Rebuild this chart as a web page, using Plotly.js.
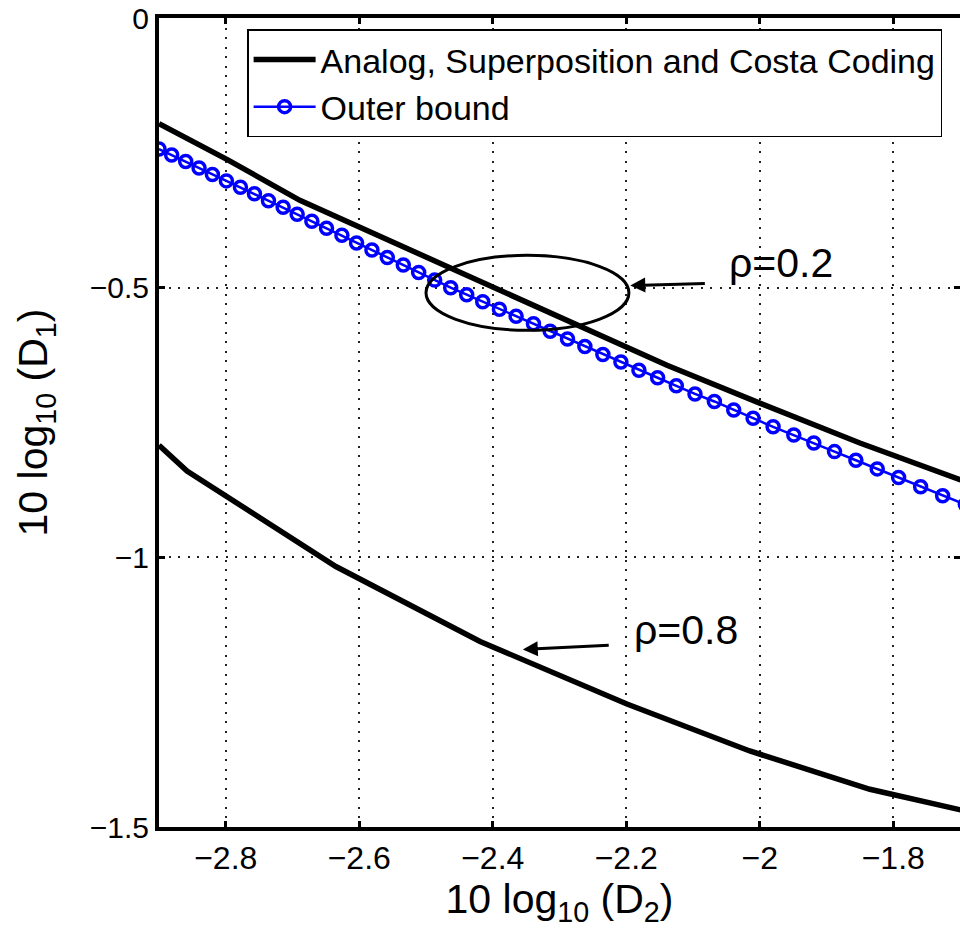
<!DOCTYPE html>
<html>
<head>
<meta charset="utf-8">
<script src="https://cdn.plot.ly/plotly-3.0.1.min.js"></script>
<style>html,body{margin:0;padding:0;background:#fff;}#chart{width:960px;height:937px;}</style>
</head>
<body>
<div id="chart"></div>
<script>
// Analog, Superposition and Costa Coding, rho = 0.2
const rho02X = [-2.900, -2.797, -2.689, -2.329, -2.139, -2.000, -1.850, -1.700, -1.640];
const rho02Y = [-0.196, -0.263, -0.338, -0.540, -0.644, -0.714, -0.788, -0.856, -0.883];

// Analog, Superposition and Costa Coding, rho = 0.8
const rho08X = [-2.900, -2.858, -2.635, -2.419, -2.199, -2.015, -1.835, -1.700, -1.640];
const rho08Y = [-0.792, -0.840, -1.017, -1.156, -1.272, -1.359, -1.430, -1.470, -1.485];

// Outer bound
const outerX = [-2.900, -2.881, -2.860, -2.840, -2.820, -2.799, -2.778, -2.757, -2.736, -2.714,
                -2.693, -2.671, -2.649, -2.626, -2.604, -2.581, -2.558, -2.534, -2.511, -2.487,
                -2.463, -2.439, -2.415, -2.390, -2.365, -2.339, -2.314, -2.288, -2.262, -2.235,
                -2.208, -2.181, -2.153, -2.125, -2.097, -2.068, -2.039, -2.010, -1.980, -1.949,
                -1.919, -1.888, -1.856, -1.824, -1.792, -1.759, -1.726, -1.692];
const outerY = [-0.243, -0.254, -0.266, -0.278, -0.290, -0.302, -0.314, -0.326, -0.339, -0.351,
                -0.364, -0.377, -0.390, -0.403, -0.417, -0.430, -0.444, -0.458, -0.472, -0.486,
                -0.500, -0.513, -0.526, -0.540, -0.553, -0.567, -0.581, -0.595, -0.609, -0.624,
                -0.638, -0.653, -0.667, -0.682, -0.697, -0.711, -0.727, -0.742, -0.758, -0.773,
                -0.788, -0.804, -0.820, -0.836, -0.852, -0.869, -0.886, -0.902];

const xTicks = [-2.8, -2.6, -2.4, -2.2, -2.0, -1.8];
const xTickText = ['\u22122.8', '\u22122.6', '\u22122.4', '\u22122.2', '\u22122', '\u22121.8'];
const yTicks = [0, -0.5, -1, -1.5];
const yTickText = ['0', '\u22120.5', '\u22121', '\u22121.5'];

const legendNames = ['Analog, Superposition and Costa Coding', 'Outer bound'];
const labelTexts = ['\u03c1=0.2', '\u03c1=0.8'];

const FONT = '"Liberation Sans", Arial, Helvetica, sans-serif';

const traces = [
  {x: rho02X, y: rho02Y, mode: 'lines', name: legendNames[0],
   line: {color: '#000', width: 5.5}},
  {x: outerX, y: outerY, mode: 'lines+markers', name: legendNames[1],
   line: {color: '#0000ff', width: 2.5},
   marker: {symbol: 'circle', size: 12, color: 'rgba(0,0,0,0)', line: {width: 3.5, color: '#0000ff'}}},
  {x: rho08X, y: rho08Y, mode: 'lines', showlegend: false,
   line: {color: '#000', width: 5.5}}
];

const axisCommon = {
  showline: true, linecolor: '#000', linewidth: 4, mirror: 'ticks',
  ticks: 'inside', ticklen: 6, tickwidth: 3, tickcolor: '#000',
  showgrid: true, gridcolor: '#222', gridwidth: 1.8, griddash: '2px,7.5px',
  zeroline: false
};

const layout = {
  width: 960, height: 937,
  margin: {l: 159, r: 0, t: 18, b: 110},
  paper_bgcolor: '#fff', plot_bgcolor: '#fff',
  font: {family: FONT, color: '#000'},
  xaxis: Object.assign({}, axisCommon, {
    range: [-2.9, -1.7], tickvals: xTicks, ticktext: xTickText,
    tickfont: {family: FONT, size: 32, color: '#000'},
    title: {text: '10 log<sub>10</sub> (D<sub>2</sub>)', font: {family: FONT, size: 41, color: '#000'}, standoff: 0}
  }),
  yaxis: Object.assign({}, axisCommon, {
    range: [-1.5, 0], tickvals: yTicks, ticktext: yTickText,
    tickfont: {family: FONT, size: 30, color: '#000'},
    title: {text: '10 log<sub>10</sub> (D<sub>1</sub>)', font: {family: FONT, size: 41, color: '#000'}, standoff: 30}
  }),
  showlegend: true,
  legend: {
    x: 0.11, y: 0.986, xanchor: 'left', yanchor: 'top',
    bgcolor: '#fff', bordercolor: '#000', borderwidth: 1.5,
    font: {family: FONT, size: 34, color: '#000'},
    itemwidth: 62, tracegroupgap: 0
  },
  shapes: [
    {type: 'circle', xref: 'x', yref: 'y', x0: -2.500, x1: -2.196, y0: -0.440, y1: -0.579,
     line: {color: '#000', width: 3}, layer: 'above'}
  ],
  annotations: [
    {xref: 'x', yref: 'y', axref: 'x', ayref: 'y', x: -2.194, y: -0.496, ax: -2.080, ay: -0.492,
     text: '', showarrow: true, arrowhead: 2, arrowsize: 1, arrowwidth: 3, arrowcolor: '#000'},
    {xref: 'x', yref: 'y', x: -2.049, y: -0.455, xanchor: 'left', yanchor: 'middle',
     text: labelTexts[0], showarrow: false, font: {family: FONT, size: 41, color: '#000'}},
    {xref: 'x', yref: 'y', axref: 'x', ayref: 'y', x: -2.355, y: -1.171, ax: -2.224, ay: -1.163,
     text: '', showarrow: true, arrowhead: 2, arrowsize: 1, arrowwidth: 3, arrowcolor: '#000'},
    {xref: 'x', yref: 'y', x: -2.191, y: -1.135, xanchor: 'left', yanchor: 'middle',
     text: labelTexts[1], showarrow: false, font: {family: FONT, size: 41, color: '#000'}}
  ]
};

Plotly.newPlot('chart', traces, layout, {displayModeBar: false, staticPlot: true});
</script>
</body>
</html>
